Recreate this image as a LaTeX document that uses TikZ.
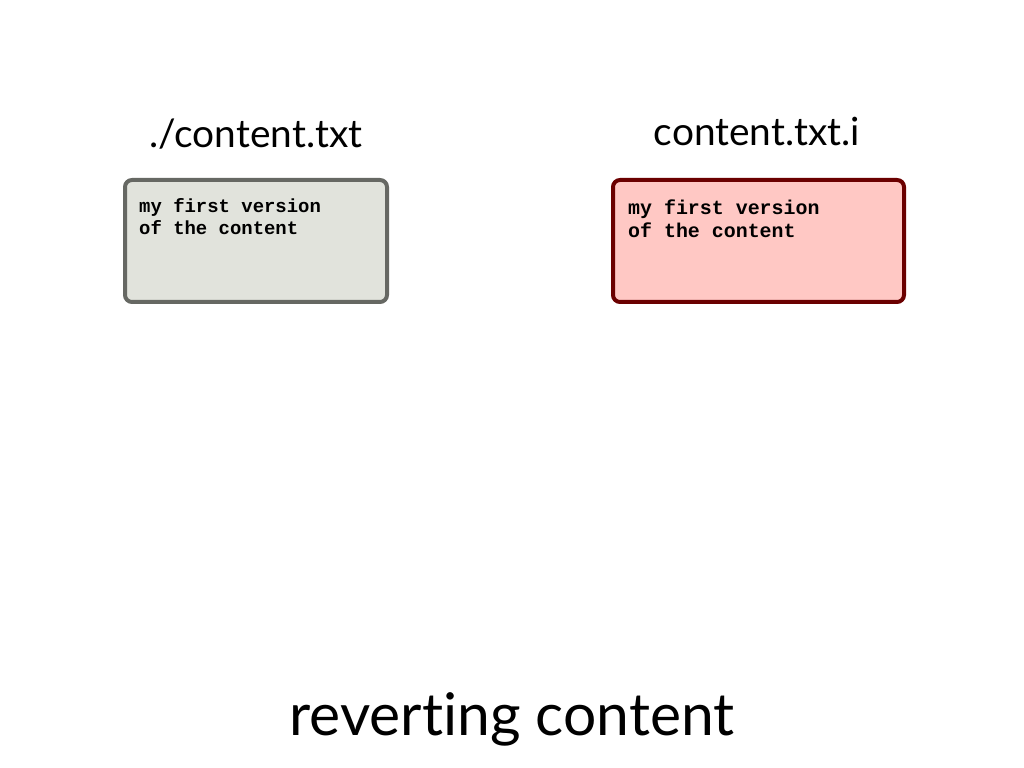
\documentclass[tikz,border=0pt]{standalone}
\usepackage{fontspec}
\setmainfont{Lato}[Ligatures={NoCommon}]
\setmonofont{Liberation Mono}
\usetikzlibrary{positioning}
\definecolor{wdfill}{RGB}{225,227,220}
\definecolor{wdline}{RGB}{102,104,99}
\definecolor{idxfill}{RGB}{255,200,196}
\definecolor{idxline}{RGB}{107,0,0}
\tikzset{
  filebox/.style={draw,rounded corners=7bp,line width=4bp,inner sep=0pt,
    minimum height=122bp},
  filetitle/.style={font=\fontsize{39}{42}\selectfont,inner sep=0pt,anchor=base},
  filetext/.style={font=\ttfamily\bfseries\fontsize{19}{22.5}\selectfont,
    align=left,inner sep=0pt,anchor=north west},
}
\begin{document}
\begin{tikzpicture}[x=1bp,y=1bp]
  \useasboundingbox (0bp,0bp) rectangle (1024bp,768bp);
  % Node: working copy
  \node [filebox,fill=wdfill,draw=wdline,minimum width=262bp] (work) at (256bp,527bp) {};
  \node [filetitle] (worktitle) at (256bp,620bp) {./content.txt};
  \node [filetext] (worktext) at (139bp,570bp) {my first version\\of the content};
  % Node: index copy
  \node [filebox,fill=idxfill,draw=idxline,minimum width=291bp] (idx) at (758.5bp,527bp) {};
  \node [filetitle] (idxtitle) at (757bp,622bp) {content.txt.i};
  \node [filetext,font=\ttfamily\bfseries\fontsize{20}{23}\selectfont] (idxtext) at (628bp,568bp) {my first version\\of the content};
  % Caption
  \node [font=\fontsize{59}{62}\selectfont,inner sep=0pt,anchor=base] (caption) at (512bp,33bp) {reverting content};
\end{tikzpicture}
\end{document}
